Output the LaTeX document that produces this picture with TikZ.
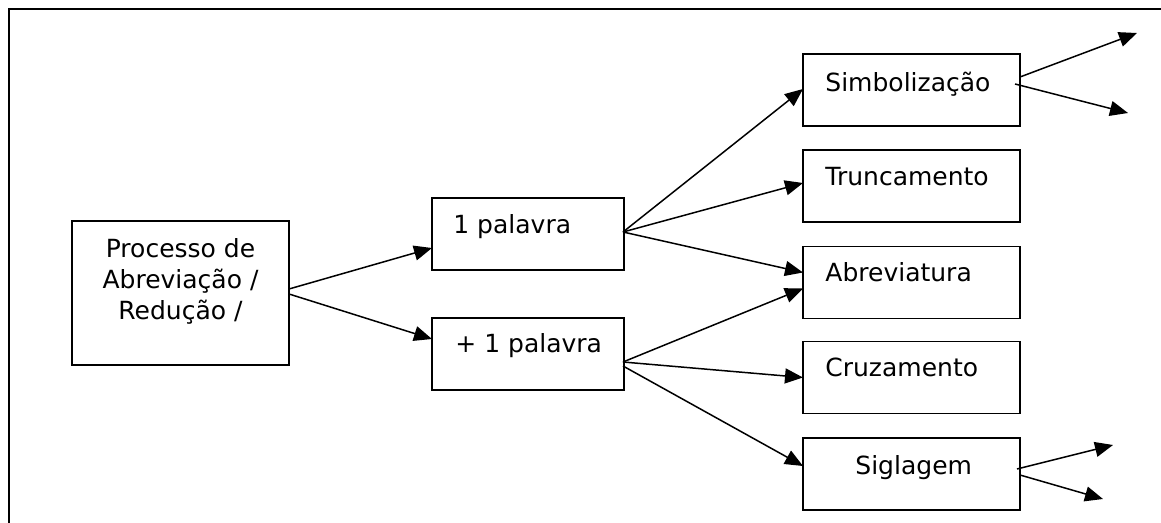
\documentclass[tikz,border=0pt]{standalone}
\usepackage{fontspec}
\setmainfont{DejaVu Sans}
\usetikzlibrary{arrows.meta}
\begin{document}
\begin{tikzpicture}[x=0.5pt,y=-0.5pt,
  bigbox/.style={draw,line width=0.8pt,inner sep=0pt,outer sep=0pt,minimum width=108.5pt,minimum height=72pt},
  midbox/.style={draw,line width=0.8pt,inner sep=0pt,outer sep=0pt,minimum width=96pt,minimum height=36pt},
  rbox/.style={draw,line width=0.8pt,inner sep=0pt,outer sep=0pt,minimum width=108.5pt,minimum height=36pt},
  lbl/.style={inner sep=0pt,font=\fontsize{12.5pt}{15.5pt}\selectfont},
  arr/.style={-{Triangle[length=9pt,width=7.5pt]},line width=0.75pt}]
\useasboundingbox (0,0) rectangle (1161,523);
\coordinate (frameBL) at (9,540);
\coordinate (frameTL) at (9,9);
\coordinate (frameTR) at (1180,9);
\draw[line width=1.1pt] (frameBL) -- (frameTL) -- (frameTR);

\node[bigbox] (main) at (180.5,293) {};
\node[lbl,align=center,anchor=north] (maintext) at (180.5,238) {Processo de\\Abreviação /\\Redução /};

\node[midbox] (p1) at (528,234) {};
\node[lbl,anchor=base west] (p1t) at (453,234) {1 palavra};
\node[midbox] (p2) at (528,354) {};
\node[lbl,anchor=base west] (p2t) at (455,353) {+ 1 palavra};

\node[rbox] (simb) at (911.5,90) {};
\node[lbl,anchor=base west] (simbt) at (825,92) {Simbolização};
\node[rbox] (trunc) at (911.5,186) {};
\node[lbl,anchor=base west] (trunct) at (825,186) {Truncamento};
\node[rbox] (abrev) at (911.5,282.5) {};
\node[lbl,anchor=base west] (abrevt) at (825,282) {Abreviatura};
\node[rbox] (cruz) at (911.5,377.5) {};
\node[lbl,anchor=base west] (cruzt) at (825,377) {Cruzamento};
\node[rbox] (sigl) at (911.5,474) {};
\node[lbl,anchor=base west] (siglt) at (855,474) {Siglagem};

% main -> p1, p2
\draw[arr] ([yshift=2pt]main.east) -- ([yshift=-7pt]p1.west);
\draw[arr] ([yshift=-0.5pt]main.east) -- ([yshift=7.5pt]p2.west);

% p1 -> right
\draw[arr] ([xshift=-0.5pt,yshift=1pt]p1.east) -- ([yshift=0.5pt]simb.west);
\draw[arr] ([xshift=-0.5pt,yshift=1pt]p1.east) -- ([yshift=1.5pt]trunc.west);
\draw[arr] ([xshift=-0.5pt,yshift=1pt]p1.east) -- ([yshift=5pt]abrev.west);

% p2 -> right
\draw[arr] ([xshift=-0.5pt,yshift=-4pt]p2.east) -- ([yshift=-3pt]abrev.west);
\draw[arr] ([xshift=-0.5pt,yshift=-4pt]p2.east) -- ([yshift=0pt]cruz.west);
\draw[arr] ([xshift=-0.5pt,yshift=-6pt]p2.east) -- ([yshift=4pt]sigl.west);

% outputs of Simbolização
\coordinate (s1) at (1137,33);
\coordinate (s2) at (1128,113);
\draw[arr] ([yshift=6.5pt]simb.east) -- (s1);
\draw[arr] ([xshift=-2.5pt,yshift=3pt]simb.east) -- (s2);

% outputs of Siglagem
\coordinate (g1) at (1113,445);
\coordinate (g2) at (1103,499);
\draw[arr] ([xshift=-1.5pt,yshift=2.5pt]sigl.east) -- (g1);
\draw[arr] ([yshift=-0.5pt]sigl.east) -- (g2);
\end{tikzpicture}
\end{document}
